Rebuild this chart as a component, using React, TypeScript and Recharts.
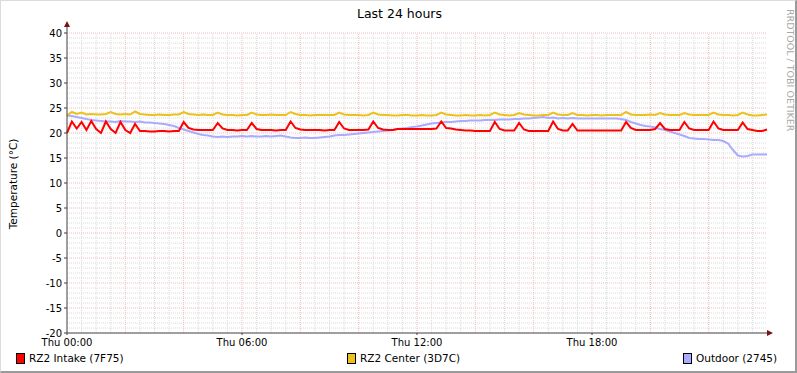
import { LineChart, Line, XAxis, YAxis, ReferenceLine, ReferenceDot } from 'recharts'

// 10-minute samples, Thu 00:00 .. Fri 00:00
const intake = [
  20.0, 22.3, 20.9, 22.2, 20.6, 22.4, 20.8, 20.0, 22.3, 20.8,
  20.0, 22.2, 20.6, 20.0, 21.8, 20.4, 20.4, 20.3, 20.3, 20.4,
  20.4, 20.3, 20.4, 20.4, 22.2, 21.0, 20.7, 20.6, 20.6, 20.6,
  20.6, 22.0, 20.9, 20.6, 20.6, 20.5, 20.6, 20.6, 22.0, 20.8,
  20.6, 20.6, 20.6, 20.5, 20.6, 20.6, 22.3, 21.0, 20.7, 20.6,
  20.6, 20.6, 20.6, 20.5, 20.6, 20.6, 22.2, 20.9, 20.6, 20.6,
  20.6, 20.6, 20.7, 22.3, 21.0, 20.7, 20.6, 20.6, 20.8, 20.8,
  20.8, 20.8, 20.8, 20.8, 20.8, 20.8, 20.9, 22.3, 21.0, 20.9,
  20.7, 20.6, 20.5, 20.5, 20.4, 20.4, 20.4, 20.4, 22.2, 20.8,
  20.5, 20.5, 20.5, 22.0, 20.7, 20.4, 20.4, 20.4, 20.4, 20.4,
  22.3, 20.8, 20.5, 20.5, 21.8, 20.5, 20.5, 20.5, 20.5, 20.5,
  20.5, 20.5, 20.5, 20.5, 20.5, 22.2, 21.0, 20.6, 20.6, 20.6,
  20.6, 20.8, 22.0, 20.8, 20.6, 20.6, 20.6, 22.2, 20.9, 20.6,
  20.6, 20.6, 20.6, 22.3, 20.9, 20.6, 20.6, 20.6, 20.6, 22.1,
  20.8, 20.6, 20.4, 20.4, 20.7,
]

const center = [
  23.5, 24.2, 23.8, 24.1, 23.7, 23.8, 23.7, 23.7, 23.8, 24.2,
  23.8, 23.7, 23.8, 23.7, 24.3, 23.8, 23.7, 23.6, 23.6, 23.7,
  23.6, 23.6, 23.7, 23.7, 24.2, 23.8, 23.7, 23.6, 23.7, 23.6,
  23.6, 24.1, 23.7, 23.6, 23.6, 23.5, 23.6, 23.6, 24.1, 23.7,
  23.6, 23.6, 23.7, 23.6, 23.6, 23.6, 24.2, 23.8, 23.6, 23.6,
  23.5, 23.6, 23.6, 23.6, 23.6, 23.6, 24.1, 23.7, 23.6, 23.6,
  23.6, 23.5, 23.6, 24.1, 23.7, 23.6, 23.6, 23.5, 23.5, 23.6,
  23.6, 23.5, 23.5, 23.6, 23.5, 23.5, 23.6, 24.1, 23.7, 23.6,
  23.5, 23.5, 23.6, 23.5, 23.5, 23.6, 23.5, 23.6, 24.1, 23.7,
  23.6, 23.5, 23.6, 24.0, 23.7, 23.6, 23.5, 23.5, 23.6, 23.6,
  24.1, 23.7, 23.6, 23.6, 24.0, 23.6, 23.6, 23.5, 23.6, 23.6,
  23.5, 23.6, 23.6, 23.6, 23.6, 24.2, 23.7, 23.6, 23.6, 23.6,
  23.7, 23.6, 24.0, 23.7, 23.6, 23.6, 23.6, 24.0, 23.7, 23.6,
  23.6, 23.6, 23.6, 24.1, 23.7, 23.6, 23.6, 23.5, 23.6, 24.1,
  23.7, 23.5, 23.5, 23.6, 23.7,
]

const outdoor = [
  23.5, 23.4, 23.2, 23.0, 22.8, 22.6, 22.5, 22.4, 22.3, 22.3,
  22.2, 22.4, 22.3, 22.3, 22.2, 22.3, 22.1, 22.1, 22.0, 21.9,
  21.8, 21.6, 21.4, 21.0, 20.7, 20.4, 20.1, 19.8, 19.6, 19.5,
  19.3, 19.2, 19.3, 19.2, 19.3, 19.3, 19.4, 19.3, 19.4, 19.3,
  19.3, 19.4, 19.3, 19.4, 19.5, 19.3, 19.1, 19.0, 19.0, 19.1,
  19.0, 19.0, 19.1, 19.2, 19.3, 19.5, 19.6, 19.6, 19.7, 19.8,
  19.9, 20.0, 20.1, 20.2, 20.3, 20.4, 20.5, 20.6, 20.8, 20.9,
  21.0, 21.2, 21.3, 21.5, 21.7, 21.9, 22.0, 22.1, 22.2, 22.2,
  22.3, 22.4, 22.4, 22.5, 22.5, 22.5, 22.6, 22.6, 22.6, 22.7,
  22.7, 22.7, 22.8, 22.8, 22.9, 22.9, 23.0, 23.1, 23.2, 23.0,
  23.1, 22.9, 23.0, 22.9, 23.0, 22.9, 22.9, 22.9, 22.9, 22.9,
  22.9, 22.9, 22.9, 22.9, 22.8, 22.6, 22.2, 21.9, 21.6, 21.4,
  21.3, 21.1, 20.8, 20.6, 20.3, 20.0, 19.7, 19.4, 19.0, 18.9,
  18.8, 18.8, 18.7, 18.6, 18.6, 18.4, 17.9, 16.6, 15.5, 15.3,
  15.4, 15.7, 15.7, 15.7, 15.7,
]

const xTicks = [0, 36, 72, 108]
const xLabels = ['Thu 00:00', 'Thu 06:00', 'Thu 12:00', 'Thu 18:00']
const yTicks = [-20, -15, -10, -5, 0, 5, 10, 15, 20, 25, 30, 35, 40]

const data = intake.map((v, i) => ({ t: i, intake: v, center: center[i], outdoor: outdoor[i] }))

const yMinor: number[] = []
for (let v = -19; v < 40; v++) if (v % 5 !== 0) yMinor.push(v)
const yMajor = yTicks.slice(1)
const xMinor: number[] = []
const xMajor: number[] = []
for (let t = 3; t < 144; t += 3) (t % 12 === 0 ? xMajor : xMinor).push(t)

const FONT = '"DejaVu Sans", sans-serif'
const MINOR = '#dadada'
const MAJOR = '#efbcbc'
const ARROW = '#7f1010'

const legend = [
  { label: 'RZ2 Intake (7F75)', color: '#ff0000', left: 15 },
  { label: 'RZ2 Center (3D7C)', color: '#ecc11c', left: 346 },
  { label: 'Outdoor (2745)', color: '#aaaaff', left: 682 },
]

function UpArrow(props: any) {
  const { cx, cy } = props
  return (
    <g>
      <line x1={cx} y1={cy} x2={cx} y2={cy - 6} stroke="#404040" />
      <polygon points={`${cx - 3},${cy - 6} ${cx + 3},${cy - 6} ${cx},${cy - 12}`} fill={ARROW} />
    </g>
  )
}

function RightArrow(props: any) {
  const { cx, cy } = props
  return (
    <g>
      <polygon points={`${cx},${cy - 3} ${cx},${cy + 3} ${cx + 6},${cy}`} fill={ARROW} />
    </g>
  )
}

export default function App() {
  return (
    <div
      style={{
        position: 'relative',
        width: 797,
        height: 373,
        background: '#ffffff',
        boxSizing: 'border-box',
        borderRight: '2px solid #9a9a9a',
        borderBottom: '2px solid #9a9a9a',
        borderTop: '1px solid #dcdcdc',
        borderLeft: '1px solid #dcdcdc',
        fontFamily: FONT,
        overflow: 'hidden',
      }}
    >
      <style>{'body{margin:0}'}</style>
      <div style={{ position: 'absolute', left: -1, top: -1 }}>
        <LineChart width={797} height={373} data={data} margin={{ top: 33, right: 30, bottom: 20, left: 0 }}>
          {yMinor.map((v) => (
            <ReferenceLine key={'ym' + v} y={v} stroke={MINOR} strokeDasharray="1 1" />
          ))}
          {xMinor.map((t) => (
            <ReferenceLine key={'xm' + t} x={t} stroke={MINOR} strokeDasharray="1 1" />
          ))}
          {yMajor.map((v) => (
            <ReferenceLine key={'yM' + v} y={v} stroke={MAJOR} strokeDasharray="1 1" />
          ))}
          {xMajor.map((t) => (
            <ReferenceLine key={'xM' + t} x={t} stroke={MAJOR} strokeDasharray="1 1" />
          ))}
          <XAxis
            type="number"
            dataKey="t"
            domain={[0, 144]}
            ticks={xTicks}
            tickFormatter={(v: number) => xLabels[xTicks.indexOf(v)]}
            height={20}
            tickSize={2}
            tickMargin={4}
            axisLine={{ stroke: '#404040' }}
            tickLine={{ stroke: '#404040' }}
            tick={{ fontSize: 10, fill: '#000', fontFamily: FONT }}
          />
          <YAxis
            type="number"
            domain={[-20, 40]}
            ticks={yTicks}
            width={67}
            tickSize={3}
            tickMargin={2}
            axisLine={{ stroke: '#404040' }}
            tickLine={{ stroke: '#404040' }}
            tick={{ fontSize: 10, fill: '#000', fontFamily: FONT }}
          />
          <Line dataKey="outdoor" stroke="#aaaaff" strokeWidth={2} dot={false} isAnimationActive={false} />
          <Line dataKey="center" stroke="#ecc11c" strokeWidth={2} dot={false} isAnimationActive={false} />
          <Line dataKey="intake" stroke="#ff0000" strokeWidth={2} dot={false} isAnimationActive={false} />
          <ReferenceDot x={0} y={40} r={0} shape={UpArrow} />
          <ReferenceDot x={144} y={-20} r={0} shape={RightArrow} />
        </LineChart>
      </div>
      <div style={{ position: 'absolute', left: 0, top: 5, width: 797, textAlign: 'center', fontSize: 12.5, color: '#000' }}>
        Last 24 hours
      </div>
      <div
        style={{
          position: 'absolute',
          left: 12,
          top: 183,
          transform: 'translate(-50%, -50%) rotate(-90deg)',
          whiteSpace: 'nowrap',
          fontSize: 10.5,
          color: '#000',
        }}
      >
        Temperature (°C)
      </div>
      <div
        style={{
          position: 'absolute',
          left: 789,
          top: 8,
          transformOrigin: '0 0',
          transform: 'rotate(90deg) translateY(-50%)',
          whiteSpace: 'nowrap',
          fontSize: 9.5,
          color: '#a8a8a8',
        }}
      >
        RRDTOOL / TOBI OETIKER
      </div>
      {legend.map((l) => (
        <div
          key={l.label}
          style={{ position: 'absolute', left: l.left, top: 351, display: 'flex', alignItems: 'center', fontSize: 10.5, color: '#000' }}
        >
          <span style={{ display: 'inline-block', width: 7, height: 9, background: l.color, border: '1px solid #000', marginRight: 4 }} />
          <span>{l.label}</span>
        </div>
      ))}
    </div>
  )
}
